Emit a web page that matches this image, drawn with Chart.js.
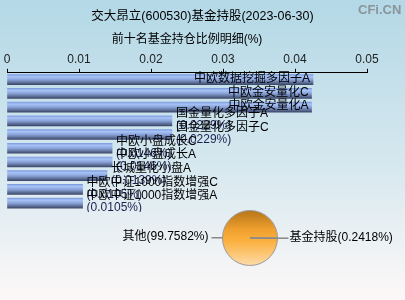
<!DOCTYPE html>
<html>
<head>
<meta charset="utf-8">
<script src="https://cdn.jsdelivr.net/npm/chart.js@4/dist/chart.umd.min.js"></script>
<style>
  body { margin: 0; width: 405px; height: 300px; overflow: hidden;
         background: linear-gradient(#b3d8e6, #d6e8ef 55%, #fdf8f7); position: relative; }
  #barras { position: absolute; left: 0; top: 0; }
  #pastel { position: absolute; left: 0; top: 200px; }
  #titulo { position: absolute; left: 0; top: 5px; width: 405px; text-align: center; line-height: 20px;
            font: 12.5px "Liberation Sans", "Noto Sans CJK SC", sans-serif; color: #000; }
  #marca { position: absolute; left: 358px; top: 2px; font: bold 13px "Liberation Sans", sans-serif; color: #8a949a; }
</style>
</head>
<body>
<canvas id="barras" width="405" height="212"></canvas>
<canvas id="pastel" width="405" height="100"></canvas>
<div id="titulo"></div>
<div id="marca">CFi.CN</div>
<script>
// datos
const titulo = "交大昂立(600530)基金持股(2023-06-30)";
const subtitulo = "前十名基金持仓比例明细(%)";
const fondos = ["中欧数据挖掘多因子A", "中欧金安量化C", "中欧金安量化A", "国金量化多因子A", "国金量化多因子C",
                "中欧小盘成长C", "中欧小盘成长A", "长城量化小盘A", "中欧中证1000指数增强C", "中欧中证1000指数增强A"];
const porcentajes = [0.0425, 0.0423, 0.0423, 0.0229, 0.0229, 0.0146, 0.0146, 0.0139, 0.0105, 0.0105];
const ticksX = [0, 0.01, 0.02, 0.03, 0.04, 0.05];

const pastelNombres = ["基金持股", "其他"];
const pastelValores = [0.2418, 99.7582];

document.getElementById("titulo").textContent = titulo;

Chart.defaults.font.family = '"Liberation Sans", "Noto Sans CJK SC", sans-serif';
Chart.defaults.color = "#222";

// degradado de cada barra
const colorBarra = function(ctx) {
    const chart = ctx.chart;
    if (!chart.chartArea) return "#8aa5dd";
    const y = chart.scales.y.getPixelForValue(ctx.dataIndex);
    const g = chart.ctx.createLinearGradient(0, y - 5, 0, y + 5);
    g.addColorStop(0, "#7f9de0");
    g.addColorStop(0.2, "#a8c3f6");
    g.addColorStop(0.5, "#8aa4da");
    g.addColorStop(0.8, "#5d6e96");
    g.addColorStop(1, "#3c486a");
    return g;
};

// nombres y valores junto a las barras
const etiquetasBarras = {
    id: "etiquetasBarras",
    afterDatasetsDraw(chart) {
        const c = chart.ctx;
        const barras = chart.getDatasetMeta(0).data;
        c.save();
        c.font = '12px "Liberation Sans", "Noto Sans CJK SC", sans-serif';
        c.textBaseline = "middle";
        barras.forEach((b, i) => {
            if (i < 3) {
                c.fillStyle = "#000";
                c.textAlign = "right";
                c.fillText(fondos[i], b.x - 3, b.y - 1);
            } else {
                c.textAlign = "left";
                c.fillStyle = "#000";
                c.fillText(fondos[i], b.x + 4, b.y - 7);
                c.fillStyle = "#1c2050";
                c.fillText("(" + porcentajes[i].toFixed(4) + "%)", b.x + 4, b.y + 5);
            }
        });
        c.restore();
    }
};

new Chart(document.getElementById("barras"), {
    type: "bar",
    data: {
        labels: fondos,
        datasets: [{
            data: porcentajes,
            backgroundColor: colorBarra,
            barThickness: 10
        }]
    },
    options: {
        indexAxis: "y",
        responsive: false,
        animation: false,
        layout: { padding: { left: 7, right: 38, top: 26, bottom: 2 } },
        plugins: {
            legend: { display: false },
            tooltip: { enabled: false },
            subtitle: { display: true, text: subtitulo, color: "#000", fullSize: false,
                        font: { size: 12 }, padding: { top: 6, bottom: 4 } }
        },
        scales: {
            x: {
                position: "top",
                min: 0,
                max: 0.05,
                afterBuildTicks: (eje) => { eje.ticks = ticksX.map(v => ({ value: v })); },
                ticks: { font: { size: 12 }, color: "#222", padding: 2,
                         callback: (v) => String(Number(v.toFixed(2))) },
                grid: { drawOnChartArea: false, drawTicks: true, tickLength: 4, color: "#000" },
                border: { color: "#000" }
            },
            y: { display: false }
        }
    },
    plugins: [etiquetasBarras]
});

// degradado naranja del pastel
const colorPastel = function(ctx) {
    const area = ctx.chart.chartArea;
    if (!area) return "#f8a930";
    const g = ctx.chart.ctx.createLinearGradient(0, area.top, 0, area.bottom);
    g.addColorStop(0, "#b47418");
    g.addColorStop(0.35, "#f0a02e");
    g.addColorStop(0.55, "#fbb03e");
    g.addColorStop(1, "#fddcaa");
    return g;
};

const etiquetasPastel = {
    id: "etiquetasPastel",
    afterDraw(chart) {
        const c = chart.ctx;
        const arcos = chart.getDatasetMeta(0).data;
        c.save();
        c.font = '12px "Liberation Sans", "Noto Sans CJK SC", sans-serif';
        c.textBaseline = "middle";
        c.strokeStyle = "#888";
        c.lineWidth = 1.5;
        c.fillStyle = "#000";
        arcos.forEach((a, i) => {
            const ang = (a.startAngle + a.endAngle) / 2;
            const cos = Math.cos(ang), sin = Math.sin(ang);
            const r0 = pastelValores[i] < 1 ? 0 : a.outerRadius;
            const r1 = a.outerRadius + 11;
            const x1 = a.x + cos * r1, y1 = a.y + sin * r1;
            c.beginPath();
            c.moveTo(a.x + cos * r0, a.y + sin * r0);
            c.lineTo(x1, y1);
            c.stroke();
            const texto = pastelNombres[i] + "(" + pastelValores[i].toFixed(4) + "%)";
            if (cos >= 0) {
                c.textAlign = "left";
                c.fillText(texto, x1 + 1, y1 - 1);
            } else {
                c.textAlign = "right";
                c.fillText(texto, x1 - 3, y1 - 1);
            }
        });
        c.restore();
    }
};

new Chart(document.getElementById("pastel"), {
    type: "pie",
    data: {
        labels: pastelNombres,
        datasets: [{
            data: pastelValores,
            backgroundColor: colorPastel,
            borderColor: "#999",
            borderWidth: 1
        }]
    },
    options: {
        responsive: false,
        animation: false,
        rotation: 90,
        layout: { padding: { left: 222, right: 127, top: 10, bottom: 34 } },
        plugins: { legend: { display: false }, tooltip: { enabled: false } }
    },
    plugins: [etiquetasPastel]
});
</script>
</body>
</html>
